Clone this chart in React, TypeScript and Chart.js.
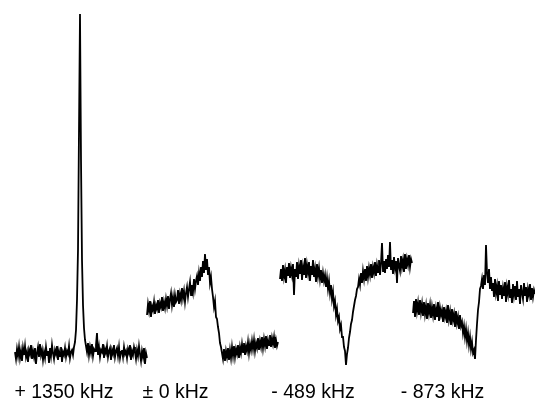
import React, { useEffect, useRef } from "react";
import { Chart, registerables } from "chart.js";

Chart.register(...registerables);

// Spectra: x in channel units (one per step), intensity in arbitrary units
const seg1Start = 15;
const seg1 = [
  8, 1, 11, 4, 13, 2, 9, -1, 12, 5,
  14, 3, 8, -2, 10, 6, 15, 1, 9, 3,
  12, -4, 7, 13, 3, 16, 5, 10, 0, 8,
  2, 13, 5, 9, -3, 12, 4, 15, 7, 1,
  10, 6, 14, 0, 9, 4, 13, -2, 8, 5,
  12, 3, 9, 6, 14, 2, 8, 10, 5, 13,
  18, 30, 60, 110, 230, 346, 200, 100, 55, 32, 20, 14,
  8, 17, 5, 13, 7, 16, 4, 11, 9, 15,
  27, 5, 13, 3, 10, 8, 16, 2, 11, 7,
  14, 3, 9, 12, 0, 10, 6, 15, 3, 9,
  12, 4, 13, 2, 8, 10, 3, 13, 6, 9,
  2, 11, 7, 15, 0, 9, 5, 13, 8, 1,
  10, 4, 14, 6, -1, 9, 3, 12, -4, 7, 2,
];

const seg2Start = 147;
const seg2 = [
  45, 56, 49, 59, 43, 54, 50, 58, 46, 55,
  51, 60, 47, 57, 53, 63, 49, 58, 52, 61,
  54, 64, 51, 61, 67, 55, 63, 53, 65, 58,
  60, 70, 56, 66, 60, 72, 62, 69, 58, 67,
  73, 63, 71, 78, 65, 75, 68, 81, 71, 79,
  84, 75, 87, 79, 93, 83, 99, 87, 106, 90,
  101, 85, 93, 77, 83, 71,
  63, 53, 59, 43, 41, 33, 27, 17, 13, 7,
  1, 11, -1, 9, 3, 12, 0, 10, 2, 13,
  4, 14, 3, 11, 6, 15, 2, 13, 7, 16,
  8, 17, 5, 14, 9, 18, 7, 16, 10, 19,
  11, 20, 9, 17, 12, 22, 10, 19, 13, 23,
  12, 21, 14, 24, 11, 20, 15, 25, 13, 22,
  16, 23, 12, 20, 14, 18,
];

const seg3Start = 280;
const seg3 = [
  81, 91, 79, 95, 83, 90, 77, 93, 84, 97,
  82, 92, 85, 96, 65, 91, 83, 98, 81, 94,
  86, 100, 80, 93, 85, 102, 82, 95, 87, 98,
  79, 94, 85, 100, 83, 91, 78, 96, 84, 92,
  81, 90, 77, 87, 79, 85, 73, 82, 71, 79,
  67, 75, 61, 68, 54, 59, 45, 51, 39, 43,
  31, 35, 23, 23, 13, 9, -5, 6, 12, 22,
  28, 36, 40, 48, 54, 60, 64, 71, 73, 81,
  75, 87, 77, 89, 81, 91, 79, 94, 83, 92,
  85, 96, 82, 93, 87, 98, 84, 95, 88, 100,
  85, 97, 117, 89, 99, 87, 101, 91, 105, 93,
  118, 90, 100, 86, 103, 92, 99, 77, 102, 94,
  89, 104, 93, 100, 88, 106, 91, 101, 95, 105,
  93, 101, 97,
];

const seg4Start = 413;
const seg4 = [
  47, 59, 43, 61, 49, 57, 45, 60, 48, 56,
  44, 58, 46, 54, 41, 57, 47, 55, 42, 53,
  45, 56, 40, 51, 43, 58, 39, 52, 45, 50,
  38, 53, 43, 49, 37, 55, 41, 48, 35, 51,
  40, 46, 33, 49, 37, 43, 31, 45, 34, 38,
  27, 34, 23, 31, 19, 27, 15, 23, 11, 18,
  7, 10, 1, 20, 36, 50, 58, 71, 74, 81,
  71, 85, 75, 115, 87, 77, 91, 71, 83, 69,
  77, 63, 81, 67, 74, 59, 79, 65, 75, 61,
  72, 64, 78, 58, 73, 66, 80, 62, 71, 57,
  76, 65, 74, 60, 79, 63, 71, 56, 75, 67,
  61, 77, 64, 73, 58, 71, 65, 76, 60, 72,
  63, 70, 66,
];

const tickLabels = ["+ 1350 kHz", "\u00b1 0 kHz", "- 489 kHz", "- 873 kHz"];
const tickValues = [64, 175.5, 313, 442.5];

const toPoints = (start: number, vals: number[]) =>
  vals.map((v, i) => ({ x: start + i, y: v }));

const labelPlugin = {
  id: "freqLabels",
  afterDraw(chart: any) {
    const { ctx, scales } = chart;
    ctx.save();
    ctx.font = '19.5px "Liberation Sans", Arial, sans-serif';
    ctx.fillStyle = "#000";
    ctx.textAlign = "center";
    ctx.textBaseline = "alphabetic";
    tickLabels.forEach((t, i) => {
      const x = scales.x.getPixelForValue(tickValues[i]);
      const y = scales.y.getPixelForValue(-38);
      ctx.fillText(t, x, y);
    });
    ctx.restore();
  },
};

export default function App() {
  const ref = useRef<HTMLCanvasElement | null>(null);
  useEffect(() => {
    if (!ref.current) return;
    const mk = (start: number, vals: number[]) => ({
      data: toPoints(start, vals),
      borderColor: "#000",
      borderWidth: 1.8,
      pointRadius: 0,
      tension: 0,
      fill: false,
    });
    const chart = new Chart(ref.current, {
      type: "line",
      data: {
        datasets: [
          mk(seg1Start, seg1),
          mk(seg2Start, seg2),
          mk(seg3Start, seg3),
          mk(seg4Start, seg4),
        ],
      },
      options: {
        animation: false,
        responsive: true,
        maintainAspectRatio: false,
        layout: { padding: 0 },
        plugins: { legend: { display: false }, tooltip: { enabled: false } },
        scales: {
          x: { type: "linear", display: false, min: 0, max: 535 },
          y: { type: "linear", display: false, min: -49, max: 360 },
        },
      },
      plugins: [labelPlugin],
    });
    return () => chart.destroy();
  }, []);
  return (
    <div style={{ position: "fixed", left: 0, top: 0, width: 535, height: 409, background: "#fff" }}>
      <canvas ref={ref} />
    </div>
  );
}
